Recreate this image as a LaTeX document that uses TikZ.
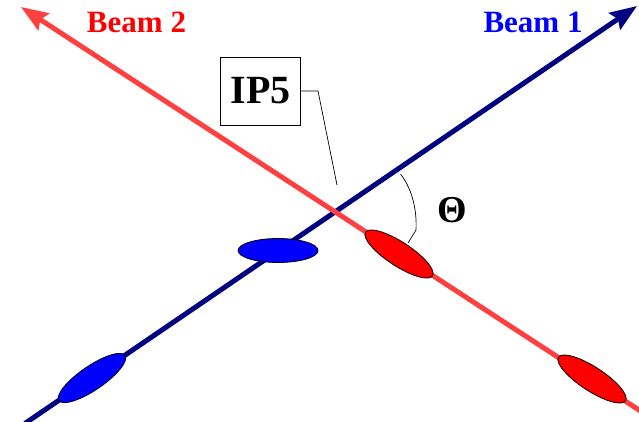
\documentclass[tikz,border=0pt]{standalone}
\usepackage{fontspec}
\setmainfont{Liberation Serif}
\usetikzlibrary{shapes.geometric,arrows.meta}
\definecolor{beamnavy}{RGB}{0,0,128}
\definecolor{beamred}{RGB}{255,64,64}
\definecolor{bunchblue}{RGB}{0,0,255}
\definecolor{bunchred}{RGB}{255,0,0}
\tikzset{
  beam/.style={line width=5pt, -{Stealth[length=27pt,width=20pt,inset=4pt]}},
  bunch/.style={ellipse, draw=black, line width=0.8pt, inner sep=0pt, minimum width=80pt, minimum height=24pt},
  beamlabel/.style={font=\fontsize{31}{31}\selectfont\bfseries, inner sep=0pt},
  thin line/.style={draw=black, line width=0.7pt}
}
\begin{document}
\begin{tikzpicture}[x=1pt,y=-1pt]
\useasboundingbox (0,0) rectangle (639,421);
% beam end points
\coordinate (b1s) at (25,423.4);
\coordinate (b1e) at (637,6);
\coordinate (b2s) at (642,412);
\coordinate (b2e) at (21,7);
\draw[beam, draw=beamnavy, fill=beamnavy] (b1s) -- (b1e);
\draw[beam, draw=beamred, fill=beamred] (b2s) -- (b2e);
% bunches
\node[bunch, fill=bunchblue] (bu1) at (278,250.5) {};
\node[bunch, fill=bunchblue, rotate=34.3] (bu2) at (92,378) {};
\node[bunch, fill=bunchred, rotate=-33.1] (bu3) at (399,254) {};
\node[bunch, fill=bunchred, rotate=-33.1] (bu4) at (592,379) {};
% labels
\node[beamlabel, text=bunchred] (l2) at (136.5,22) {Beam 2};
\node[beamlabel, text=bunchblue] (l1) at (533,22) {Beam 1};
% IP5 box
\node[draw=black, line width=0.8pt, minimum width=80pt, minimum height=68pt, inner sep=0pt,
      font=\fontsize{40}{40}\selectfont\bfseries] (ip) at (260.7,91) {IP5};
\coordinate (ipk) at (318,91);
\coordinate (ipt) at (337,185);
\draw[thin line] (ip.east |- ipk) -- (ipk) -- (ipt);
% angle
\coordinate (a1) at (400.5,174);
\coordinate (a2) at (416,230);
\coordinate (a3) at (408,243);
\draw[thin line] (a1) .. controls (413,190) and (417,212) .. (a2) -- (a3);
\node[font=\fontsize{38}{38}\selectfont\bfseries, inner sep=0pt] (th) at (452.5,210) {Θ};
\end{tikzpicture}
\end{document}
